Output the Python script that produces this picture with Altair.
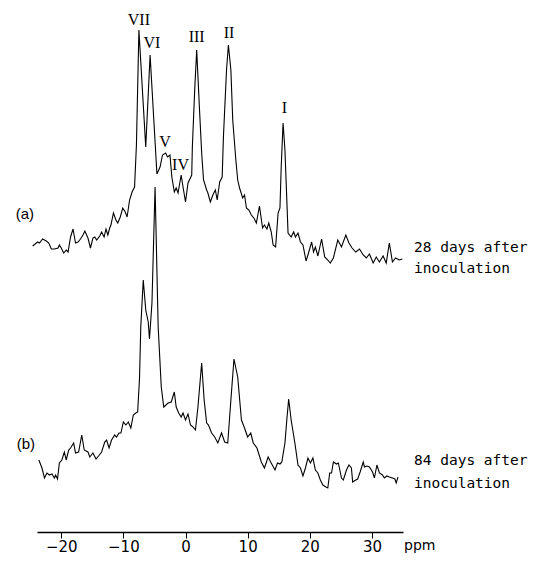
import altair as alt
import pandas as pd

# ---- spectrum (a): 28 days after inoculation (ppm, relative intensity)
ppm_a = [-24.6, -24.0, -23.8, -23.5, -23.0, -22.4, -22.0, -21.6, -21.1, -20.5,
         -20.3, -20.0, -19.6, -19.2, -18.9, -18.5, -18.1, -17.7, -17.3, -16.9,
         -16.5, -16.2, -15.7, -15.3, -14.9, -14.6, -14.3, -13.8, -13.5, -13.1,
         -12.8, -12.5, -12.2, -12.0, -11.6, -11.2, -10.9, -10.5, -10.1, -9.7,
         -9.4, -9.0, -8.6, -8.2, -7.9, -7.5, -6.4, -5.7, -5.1, -4.6,
         -4.1, -3.7, -3.2, -2.9, -2.5, -2.2, -1.8, -1.5, -1.2, -0.7,
         -0.4, 0.0, 0.4, 1.0, 1.1, 1.5, 1.8, 2.2, 2.6, 2.9,
         3.4, 3.6, 4.0, 4.4, 4.8, 5.1, 5.5, 5.9, 6.1, 6.6,
         6.9, 7.3, 7.6, 8.1, 8.4, 8.7, 9.2, 9.5, 9.8, 10.2,
         10.6, 11.0, 11.4, 11.9, 12.4, 12.7, 13.1, 13.4, 13.8, 14.1,
         14.5, 14.9, 15.2, 15.4, 15.7, 16.0, 16.2, 16.5, 17.0, 17.4,
         17.7, 18.1, 18.5, 18.9, 19.4, 19.7, 20.3, 20.6, 20.9, 21.3,
         21.9, 22.4, 22.9, 23.3, 23.8, 24.5, 25.1, 25.8, 26.3, 26.8,
         27.4, 28.0, 28.6, 29.1, 29.6, 30.2, 30.7, 31.2, 31.8, 32.3,
         32.8, 33.3, 33.8, 34.4, 34.9]
int_a = [14, 17, 18, 17, 21, 19, 17, 11, 11, 12,
         15, 12, 7, 10, 8, 23, 31, 17, 18, 21,
         25, 29, 22, 12, 22, 23, 20, 24, 28, 23,
         31, 25, 32, 35, 47, 40, 37, 43, 52, 48,
         43, 60, 68, 73, 115, 230, 113, 205, 140, 86,
         93, 105, 107, 103, 105, 83, 68, 72, 67, 85,
         73, 58, 77, 85, 113, 173, 210, 157, 107, 80,
         70, 67, 58, 65, 70, 60, 78, 83, 123, 190,
         215, 190, 140, 100, 80, 72, 62, 65, 52, 50,
         45, 42, 37, 54, 32, 35, 31, 37, 28, 15,
         13, 47, 52, 93, 137, 110, 77, 27, 23, 28,
         23, 27, 18, 15, -1, 5, 18, 8, 13, 4,
         21, 3, 0, -3, 2, 20, 13, 25, 17, 12,
         8, 11, 5, 2, 6, -3, 3, -2, 4, -3,
         17, -2, 2, 0, 1]

# ---- spectrum (b): 84 days after inoculation
ppm_b = [-23.6, -23.1, -22.7, -22.3, -21.9, -21.5, -21.1, -20.9, -20.6, -20.3,
         -19.9, -19.5, -19.2, -18.8, -18.5, -18.0, -17.7, -17.2, -16.7, -16.3,
         -15.7, -15.4, -14.9, -14.4, -14.0, -13.5, -13.0, -12.7, -12.3, -11.9,
         -11.4, -11.1, -10.7, -10.4, -10.0, -9.6, -9.2, -8.8, -8.4, -8.0,
         -7.7, -7.4, -7.2, -6.8, -6.4, -6.0, -5.8, -5.4, -4.9, -4.4,
         -3.9, -3.5, -2.8, -2.3, -1.8, -1.5, -1.1, -0.7, -0.4, 0.0,
         0.4, 0.8, 1.2, 1.6, 2.0, 2.6, 3.0, 3.4, 3.7, 4.2,
         4.7, 5.2, 5.8, 6.3, 6.8, 7.3, 7.8, 8.4, 9.0, 9.5,
         10.0, 10.5, 10.9, 11.5, 12.2, 12.7, 13.3, 13.7, 14.4, 14.8,
         15.2, 15.5, 16.0, 16.3, 16.6, 17.0, 17.6, 18.1, 18.5, 18.9,
         19.3, 19.7, 20.1, 20.5, 20.9, 21.3, 21.7, 22.1, 22.6, 22.9,
         23.2, 23.5, 23.8, 24.3, 24.6, 25.1, 25.4, 25.9, 26.3, 26.7,
         26.9, 27.4, 27.7, 28.1, 28.6, 28.8, 29.2, 29.6, 30.1, 30.4,
         30.8, 31.2, 31.7, 32.0, 32.4, 32.8, 33.3, 33.7, 33.9, 34.2]
int_b = [30, 22, 12, 17, 15, 16, 12, 15, 11, 27,
         30, 38, 30, 40, 42, 47, 37, 38, 55, 40,
         38, 33, 37, 31, 34, 38, 48, 50, 42, 50,
         55, 53, 57, 57, 68, 65, 68, 62, 75, 77,
         78, 112, 163, 210, 180, 168, 151, 187, 303, 163,
         103, 83, 87, 88, 98, 83, 77, 73, 77, 70,
         76, 65, 63, 60, 83, 127, 90, 67, 65, 57,
         53, 47, 57, 48, 47, 90, 131, 113, 70, 62,
         53, 57, 47, 42, 28, 22, 33, 28, 20, 27,
         26, 28, 47, 70, 91, 70, 47, 25, 22, 14,
         22, 32, 27, 32, 20, 17, 10, 5, 3, 2,
         17, 17, 28, 26, 27, 12, 10, 20, 25, 22,
         8, 10, 11, 18, 28, 23, 24, 23, 18, 12,
         25, 17, 15, 12, 14, 13, 12, 11, 7, 13]

# ---- peak assignments on spectrum (a)
peak_labels = ["VII", "VI", "V", "IV", "III", "II", "I"]
peak_label_ppm = [-7.5, -5.4, -3.3, -0.8, 1.8, 7.0, 15.9]
peak_label_int = [235, 212, 113, 90, 218, 222, 147]

tick_values = [-20, -10, 0, 10, 20, 30]

df = pd.concat([
    pd.DataFrame({"ppm": ppm_a, "intensity": int_a, "trace": "a"}),
    pd.DataFrame({"ppm": ppm_b, "intensity": int_b, "trace": "b"}),
], ignore_index=True)
labels_df = pd.DataFrame({"ppm": peak_label_ppm, "intensity": peak_label_int,
                          "label": peak_labels, "trace": "a"})

W, H = 366, 522
PAD_L, PAD_T = 29, 2
TOTAL_W, TOTAL_H = 521, 546
X0, Y0 = 8 + PAD_L, 8 + PAD_T
OFFSET_EXPR = "datum.intensity + (datum.trace == 'a' ? 272 : 42)"

x_scale = alt.Scale(domain=[-23.9, 35], nice=False, zero=False)
y_scale = alt.Scale(domain=[0, H], nice=False, zero=False)

lines = alt.Chart(df).transform_calculate(level=OFFSET_EXPR).mark_line(
    color="black", strokeWidth=1.1, clip=False
).encode(
    x=alt.X("ppm:Q", scale=x_scale,
            axis=alt.Axis(values=tick_values, title=None, grid=False,
                          tickSize=6, tickColor="black", tickWidth=1,
                          domainColor="black", domainWidth=1.6,
                          labelFont="DejaVu Sans", labelFontSize=15,
                          labelColor="black", labelPadding=1,
                          labelFlush=False, labelOverlap=False)),
    y=alt.Y("level:Q", scale=y_scale, axis=None),
    detail="trace:N",
)

peaks = alt.Chart(labels_df).transform_calculate(level=OFFSET_EXPR).mark_text(
    font="Liberation Serif", fontSize=16, align="center", baseline="alphabetic",
    color="black"
).encode(
    x=alt.X("ppm:Q", scale=x_scale),
    y=alt.Y("level:Q", scale=y_scale),
    text="label:N",
)


def note(txt, px, py, **kw):
    return alt.Chart(pd.DataFrame({"t": [txt]})).mark_text(
        color="black", baseline="alphabetic", **kw
    ).encode(x=alt.value(px - X0), y=alt.value(py - Y0), text="t:N")


mono = dict(font="DejaVu Sans Mono", fontSize=14.5, align="left")
notes = [
    note("(a)", 34, 219, font="Liberation Sans", fontSize=15, align="right"),
    note("(b)", 35, 449, font="Liberation Sans", fontSize=15, align="right"),
    note("28 days after", 414, 252, **mono),
    note("inoculation", 414, 273, **mono),
    note("84 days after", 414, 465, **mono),
    note("inoculation", 414, 488, **mono),
    note("ppm", 404, 550, font="DejaVu Sans", fontSize=14, align="left"),
]

chart = alt.layer(lines, peaks, *notes).properties(
    width=W, height=H,
    padding={"left": PAD_L, "top": PAD_T,
             "right": TOTAL_W - PAD_L - W, "bottom": TOTAL_H - PAD_T - H},
    autosize=alt.AutoSizeParams(type="none"),
    background="white",
).configure_view(stroke=None)

chart.save("out.html", embed_options={"renderer": "svg", "actions": False})
